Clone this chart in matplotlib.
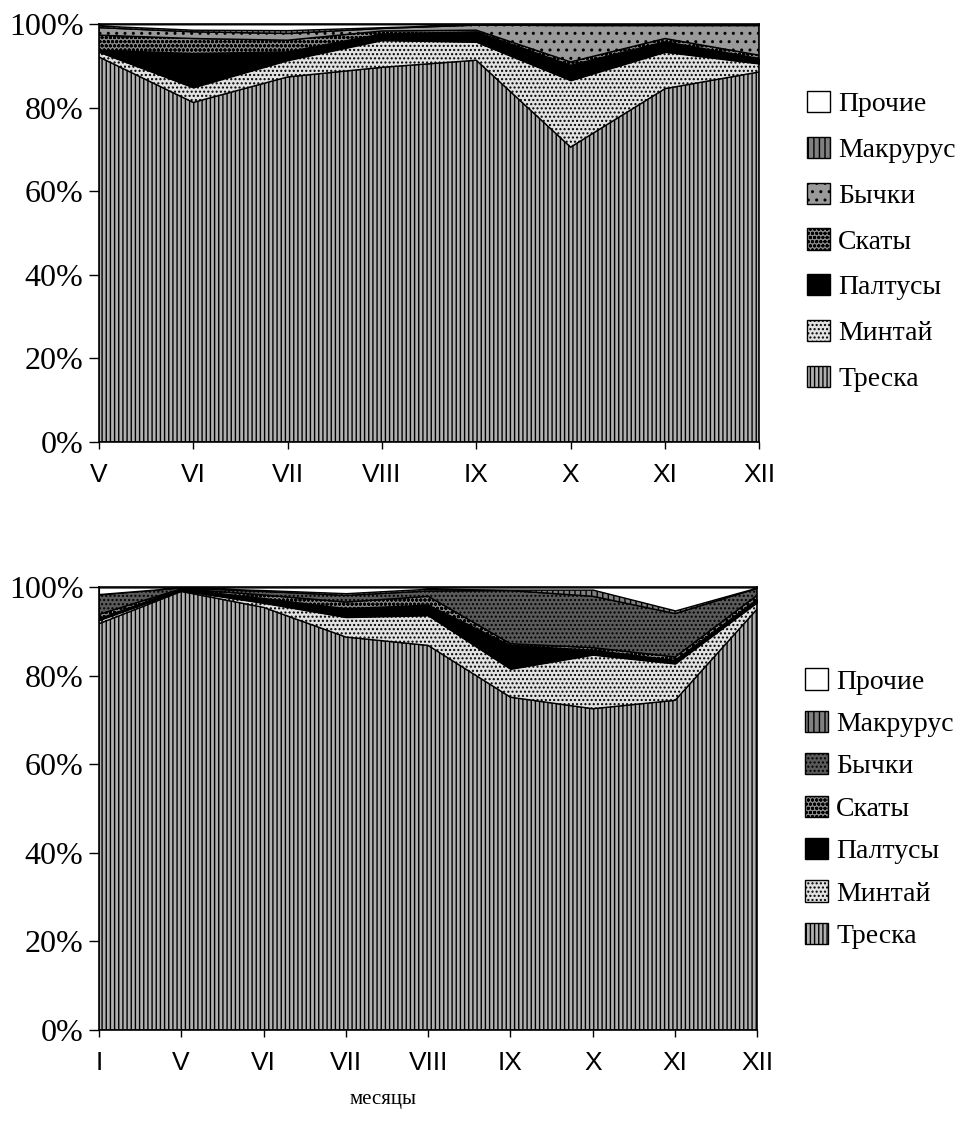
import matplotlib
matplotlib.use('Agg')
import matplotlib.pyplot as plt
import numpy as np
from matplotlib.patches import Patch

# data (percent shares)
species = ['Треска', 'Минтай', 'Палтусы', 'Скаты', 'Бычки', 'Макрурус', 'Прочие']

months_top = ['V', 'VI', 'VII', 'VIII', 'IX', 'X', 'XI', 'XII']
treska_top = [92.2, 81.3, 87.4, 89.7, 91.4, 70.6, 84.6, 88.6]
mintai_top = [1.2, 3.6, 4.0, 6.5, 4.4, 16.0, 8.8, 2.0]
paltus_top = [0.4, 8.1, 2.0, 1.5, 2.4, 3.6, 2.4, 1.2]
skaty_top = [3.6, 3.6, 2.8, 0.7, 0.4, 0.8, 0.8, 0.8]
bychki_top = [1.8, 1.6, 1.6, 0.6, 1.2, 8.7, 3.1, 7.1]
makrurus_top = [0.5, 0.5, 0.8, 0.3, 0.2, 0.3, 0.3, 0.3]
prochie_top = [0.3, 1.3, 1.4, 0.7, 0.0, 0.0, 0.0, 0.0]

months_bot = ['I', 'V', 'VI', 'VII', 'VIII', 'IX', 'X', 'XI', 'XII']
treska_bot = [91.8, 99.1, 95.5, 88.8, 86.9, 75.2, 72.6, 74.5, 95.2]
mintai_bot = [0.8, 0.2, 1.0, 4.5, 6.8, 6.4, 12.2, 8.3, 1.5]
paltus_bot = [0.3, 0.3, 1.0, 1.9, 2.3, 5.3, 1.0, 0.7, 0.6]
skaty_bot = [1.0, 0.1, 0.8, 1.5, 2.0, 0.4, 0.6, 0.8, 1.0]
bychki_bot = [4.4, 0.2, 0.8, 1.5, 1.2, 12.0, 11.6, 9.8, 1.5]
makrurus_bot = [0.2, 0.1, 0.3, 0.5, 0.5, 0.2, 1.5, 0.7, 0.2]
prochie_bot = [1.5, 0.0, 0.6, 1.3, 0.3, 0.5, 0.5, 5.2, 0.0]

# fill styles: (facecolor, hatch)
styles_top = [('#b0b0b0', '||||'), ('#e2e2e2', '....'), ('black', None),
              ('#8a8a8a', 'oooo'), ('#9a9a9a', '..'), ('#808080', '|||'),
              ('white', None)]
styles_bot = [('#b0b0b0', '||||'), ('#e2e2e2', '....'), ('black', None),
              ('#8a8a8a', 'oooo'), ('#5a5a5a', '....'), ('#808080', '|||'),
              ('white', None)]

plt.rcParams['hatch.linewidth'] = 1.0
plt.rcParams['hatch.color'] = 'black'

serif = ['Liberation Serif', 'DejaVu Serif']
narrow = ['Liberation Sans Narrow', 'Liberation Sans', 'DejaVu Sans']


def draw_panel(ax, months, series, styles):
    x = np.arange(len(months))
    data = np.array(series, dtype=float)
    data = data / data.sum(axis=0) * 100
    bottom = np.zeros(len(months))
    handles = []
    for name, vals, (fc, hatch) in zip(species, data, styles):
        top = bottom + vals
        ax.fill_between(x, bottom, top, facecolor=fc, hatch=hatch,
                        edgecolor='black', linewidth=1.0)
        handles.append(Patch(facecolor=fc, hatch=hatch, edgecolor='black',
                             linewidth=1.0, label=name))
        bottom = top
    ax.set_xlim(0, len(months) - 1)
    ax.set_ylim(0, 100)
    ax.set_xticks(x)
    ax.set_xticklabels(months, family=narrow, fontsize=19)
    ax.set_yticks(np.arange(0, 101, 20))
    ax.set_yticklabels([f'{v}%' for v in range(0, 101, 20)], family=serif,
                       fontsize=23)
    ax.tick_params(axis='y', direction='out', length=7, width=1, pad=4)
    ax.tick_params(axis='x', direction='out', length=5, width=1, pad=10)
    for sp in ax.spines.values():
        sp.set_linewidth(1.2)
    return handles


fig = plt.figure(figsize=(9.6, 11.29), dpi=100)

ax1 = fig.add_axes([0.103, 0.6085, 0.688, 0.370])
h1 = draw_panel(ax1, months_top,
                [treska_top, mintai_top, paltus_top, skaty_top, bychki_top,
                 makrurus_top, prochie_top], styles_top)
ax1.legend(handles=h1[::-1], loc='center left', bbox_to_anchor=(1.035, 0.48),
           frameon=False, prop={'family': serif, 'size': 20},
           handlelength=0.8, handleheight=0.8, handletextpad=0.3,
           labelspacing=0.7)

ax2 = fig.add_axes([0.103, 0.0877, 0.686, 0.392])
h2 = draw_panel(ax2, months_bot,
                [treska_bot, mintai_bot, paltus_bot, skaty_bot, bychki_bot,
                 makrurus_bot, prochie_bot], styles_bot)
ax2.legend(handles=h2[::-1], loc='center left', bbox_to_anchor=(1.035, 0.50),
           frameon=False, prop={'family': serif, 'size': 20},
           handlelength=0.8, handleheight=0.8, handletextpad=0.3,
           labelspacing=0.58)

fig.text(0.399, 0.022, 'месяцы', family=serif, fontsize=15, ha='center')

fig.savefig('out.png', dpi=100)
